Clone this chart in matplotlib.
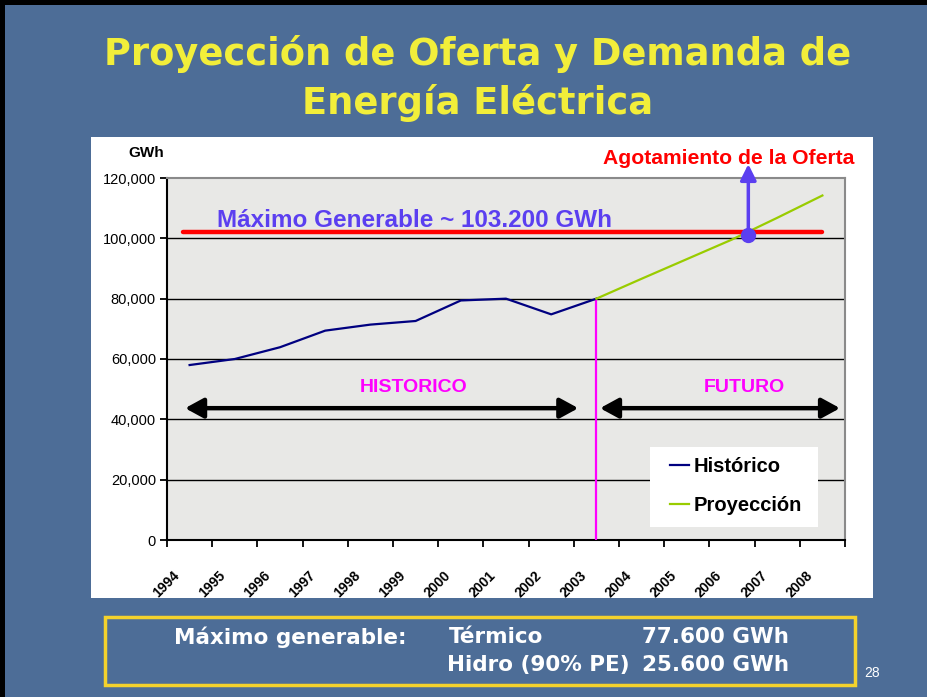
import numpy as np
import matplotlib
matplotlib.use("Agg")
import matplotlib.pyplot as plt
from matplotlib.patches import Rectangle
from matplotlib.transforms import ScaledTranslation
from matplotlib import font_manager as fm

# ---------------- data ----------------
years = ["1994", "1995", "1996", "1997", "1998", "1999", "2000", "2001",
         "2002", "2003", "2004", "2005", "2006", "2007", "2008"]
historico = [58000, 60000, 63900, 69400, 71400, 72600, 79400, 80000, 74800, 80000]
proyeccion = [80000, 86600, 93100, 99600, 106800, 114200]
maximo_generable = 102200
y_ticks = [0, 20000, 40000, 60000, 80000, 100000, 120000]
y_tick_labels = ["0", "20,000", "40,000", "60,000", "80,000", "100,000", "120,000"]

# ---------------- styling ----------------
available = {f.name for f in fm.fontManager.ttflist}
SANS = "Liberation Sans" if "Liberation Sans" in available else "DejaVu Sans"
NARROW = "Liberation Sans Narrow" if "Liberation Sans Narrow" in available else SANS
TITLE = "DejaVu Sans"

BG = "#4D6D97"
YELLOW = "#F2EE3A"
PURPLE = "#5B3FF0"
RED = "#FF0000"
MAGENTA = "#FF00FF"
NAVY = "#000080"
GREEN = "#99CC00"

W, H = 927, 697
fig = plt.figure(figsize=(W / 100, H / 100), dpi=100)
fig.patch.set_facecolor(BG)

def fx(px):
    return px / W

def fy(py):
    return 1 - py / H

# black border top/left
fig.patches.append(Rectangle((0, fy(5)), 1, 5 / H, transform=fig.transFigure,
                             facecolor="black", edgecolor="none", zorder=-20))
fig.patches.append(Rectangle((0, 0), 5 / W, 1, transform=fig.transFigure,
                             facecolor="black", edgecolor="none", zorder=-20))

# white chart panel
fig.patches.append(Rectangle((fx(91), fy(598)), (873 - 91) / W, (598 - 137) / H,
                             transform=fig.transFigure, facecolor="white",
                             edgecolor="none", zorder=-10))

# Title
fig.text(fx(478), fy(54), "Proyección de Oferta y Demanda de", color=YELLOW,
         fontsize=26.5, fontweight="bold", family=TITLE, ha="center", va="center")
fig.text(fx(478), fy(103), "Energía Eléctrica", color=YELLOW,
         fontsize=26.5, fontweight="bold", family=TITLE, ha="center", va="center")

# ---------------- axes ----------------
ax = fig.add_axes([fx(167), fy(540), (845 - 167) / W, (540 - 178) / H])
ax.set_facecolor("#E8E8E6")
n = len(years)
x_all = np.arange(n)
x_hist = x_all[:len(historico)]
x_proj = x_all[len(historico) - 1:len(historico) - 1 + len(proyeccion)]

ax.set_xlim(-0.5, n - 0.5)
ax.set_ylim(0, 120000)

for v in y_ticks[1:-1]:
    ax.axhline(v, color="black", lw=1.0, zorder=1)

ax.plot(x_hist, historico, color=NAVY, lw=1.6, zorder=4, label="Histórico")
ax.plot(x_proj, proyeccion, color=GREEN, lw=1.6, zorder=4, label="Proyección")

# maximum generable line
ax.plot([-0.15, 14.0], [maximo_generable, maximo_generable], color=RED, lw=3.2,
        solid_capstyle="round", zorder=5)
ax.text(4.98, 103900, "Máximo Generable ~ 103.200 GWh", color=PURPLE,
        fontsize=17.5, fontweight="bold", family=SANS, ha="center", va="baseline", zorder=6)

# intersection of projection with the max line
x_cross = float(np.interp(maximo_generable, proyeccion, x_proj))
ax.annotate("", xy=(x_cross, 124600), xytext=(x_cross, maximo_generable),
            arrowprops=dict(arrowstyle="-|>,head_length=0.6,head_width=0.3",
                            color=PURPLE, lw=2.5, mutation_scale=16,
                            shrinkA=0, shrinkB=0),
            annotation_clip=False, zorder=7)
ax.plot([x_cross], [maximo_generable - 1200], "o", color=PURPLE, ms=10,
        clip_on=False, zorder=8)
ax.text(0.828, 1.04, "Agotamiento de la Oferta", transform=ax.transAxes,
        color=RED, fontsize=15.2, fontweight="bold", family=SANS,
        ha="center", va="baseline", clip_on=False)

# separator between history and future
ax.plot([len(historico) - 1] * 2, [0, historico[-1]], color=MAGENTA, lw=1.6, zorder=3)

# double arrows
arrow_kw = dict(arrowstyle="<|-|>,head_length=0.55,head_width=0.3", color="black",
                lw=3.2, mutation_scale=20, shrinkA=0, shrinkB=0)
ax.annotate("", xy=(-0.1, 43700), xytext=(8.6, 43700), arrowprops=arrow_kw, zorder=6)
ax.annotate("", xy=(9.08, 43700), xytext=(14.39, 43700), arrowprops=arrow_kw,
            zorder=6, annotation_clip=False)
ax.text(4.95, 50700, "HISTORICO", color=MAGENTA, fontsize=14, fontweight="bold",
        family=SANS, ha="center", va="center", zorder=6)
ax.text(12.27, 50700, "FUTURO", color=MAGENTA, fontsize=14, fontweight="bold",
        family=SANS, ha="center", va="center", zorder=6)

# spines
for s in ["top", "right"]:
    ax.spines[s].set_color("#8A8A8A")
    ax.spines[s].set_linewidth(1.5)
for s in ["left", "bottom"]:
    ax.spines[s].set_color("black")
    ax.spines[s].set_linewidth(1.5)

ax.set_yticks(y_ticks)
ax.set_yticklabels(y_tick_labels, family=SANS, fontsize=10.5)
ax.tick_params(axis="y", length=5, width=1.3, direction="out", pad=3)

ax.set_xticks(x_all)
ax.set_xticklabels(years, rotation=45, ha="right", va="center",
                   rotation_mode="anchor", family=NARROW, fontsize=10,
                   fontweight="bold")
ax.set_xticks(np.arange(-0.5, n, 1.0), minor=True)
ax.tick_params(axis="x", which="major", length=0, pad=24)
ax.tick_params(axis="x", which="minor", length=5, width=1.3, direction="out")
offset = ScaledTranslation(-0.12, 0, fig.dpi_scale_trans)
for lab in ax.get_xticklabels():
    lab.set_transform(lab.get_transform() + offset)

fig.text(fx(146), fy(157), "GWh", family=SANS, fontsize=11, fontweight="bold",
         ha="center", va="baseline")

# legend: white box + frameless legend
ax.add_patch(Rectangle(((650 - 167) / 678, (540 - 527) / 362), 168 / 678, 80 / 362,
                       transform=ax.transAxes, facecolor="white", edgecolor="none",
                       zorder=9))
leg = ax.legend(loc="upper left", bbox_to_anchor=((670 - 167) / 678, (540 - 457) / 362),
                frameon=False, prop=dict(family=SANS, size=14.5, weight="bold"),
                handlelength=0.95, handletextpad=0.2, labelspacing=1.0,
                borderpad=0, borderaxespad=0)
leg.set_zorder(10)

# ---------------- bottom box ----------------
fig.patches.append(Rectangle((fx(105), fy(685)), (855 - 105) / W, (685 - 617) / H,
                             transform=fig.transFigure, facecolor="none",
                             edgecolor="#F4D22C", lw=2.5, zorder=2))
tkw = dict(color="white", fontsize=15.5, fontweight="bold", family=TITLE, va="center")
fig.text(fx(174), fy(637), "Máximo generable:", ha="left", **tkw)
fig.text(fx(449), fy(637), "Térmico", ha="left", **tkw)
fig.text(fx(789), fy(637), "77.600 GWh", ha="right", **tkw)
fig.text(fx(447), fy(665), "Hidro (90% PE)", ha="left", **tkw)
fig.text(fx(789), fy(665), "25.600 GWh", ha="right", **tkw)
fig.text(fx(872), fy(673), "28", color="white", fontsize=10, family=SANS,
         ha="center", va="center")

fig.savefig("out.png", dpi=100, facecolor=fig.get_facecolor())
